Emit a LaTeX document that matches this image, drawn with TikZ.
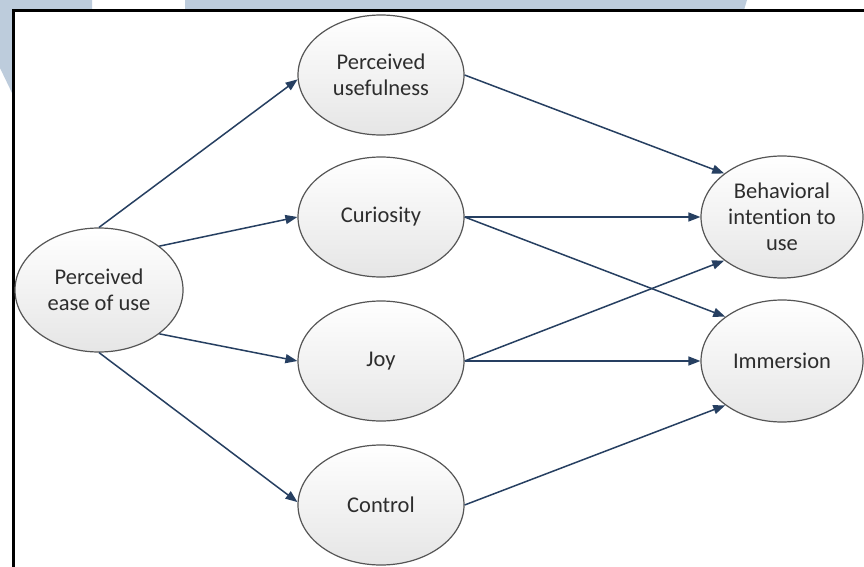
\documentclass[tikz,border=0pt]{standalone}
\usepackage{fontspec}
\setmainfont{Carlito}[Ligatures=NoCommon]
\usetikzlibrary{shapes.geometric,arrows.meta}
\definecolor{bgblue}{RGB}{189,204,220}
\definecolor{arrowblue}{RGB}{38,63,97}
\definecolor{edgegray}{RGB}{85,85,85}
\definecolor{txtgray}{RGB}{45,45,45}
\begin{document}
\begin{tikzpicture}[x=1pt,y=-1pt,
  latent/.style={ellipse, draw=edgegray, line width=1.2pt, top color=white, bottom color=black!10,
    inner sep=0pt, align=center, text=txtgray, font=\fontsize{22.5}{26}\selectfont},
  small/.style={minimum width=166pt, minimum height=120pt},
  right/.style={minimum width=162pt, minimum height=122pt},
  conn/.style={draw=arrowblue, line width=1.5pt, -{Triangle[length=12pt,width=9pt]}}]
\useasboundingbox (0,0) rectangle (864,567);
\fill[white] (0,0) rectangle (864,567);
% background decoration
\fill[bgblue] (0,0) -- (92,0) -- (92,20) -- (13,20) -- (13,95) -- (0,68) -- cycle;
\fill[bgblue] (185,0) -- (747,0) -- (741,20) -- (185,20) -- cycle;
\fill[white] (13.5,11) rectangle (870,575);
\draw[black, line width=3pt] (13.5,575) -- (13.5,11) -- (870,11);
% nodes
\node[latent, minimum width=168pt, minimum height=124pt] (peou) at (99,290) {Perceived\\ease of use};
\node[latent, small] (pu) at (381,75) {Perceived\\usefulness};
\node[latent, small] (cur) at (381,217) {Curiosity};
\node[latent, small] (joy) at (381,361) {Joy};
\node[latent, small] (ctl) at (381,505) {Control};
\node[latent, right] (bi) at (782,217) {Behavioral\\intention to\\use};
\node[latent, right] (imm) at (782,361) {Immersion};
% connectors
\draw[conn] (peou.north) -- (pu.183);
\draw[conn] (peou.36) -- (cur.west);
\draw[conn] (peou.-36) -- (joy.west);
\draw[conn] (peou.south) -- (ctl.178);
\draw[conn] (pu.east) -- (bi.143);
\draw[conn] (cur.east) -- (bi.west);
\draw[conn] (cur.east) -- (imm.142);
\draw[conn] (joy.east) -- (bi.217);
\draw[conn] (joy.east) -- (imm.west);
\draw[conn] (ctl.east) -- (imm.218);
\end{tikzpicture}
\end{document}
